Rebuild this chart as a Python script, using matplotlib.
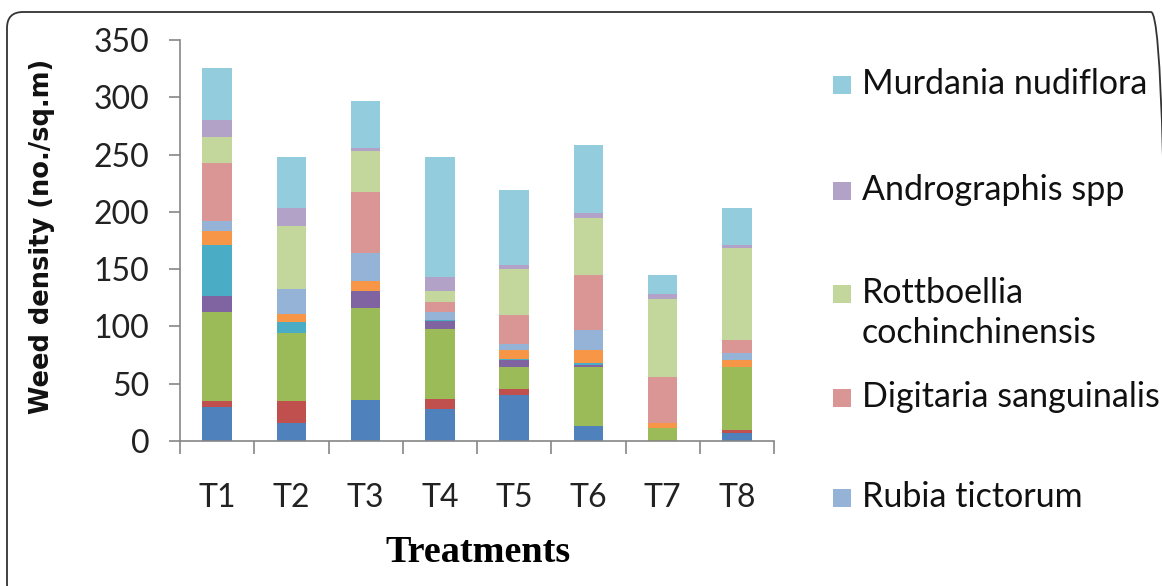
import numpy as np
import matplotlib.pyplot as plt
from matplotlib.patches import FancyBboxPatch, Rectangle

treatments = ["T1", "T2", "T3", "T4", "T5", "T6", "T7", "T8"]

# weed density per treatment (no./sq.m), stacked bottom to top
other_1 = [30, 16, 36, 28, 40, 13, 0, 7]
other_2 = [5, 19, 0, 9, 5, 0, 0, 3]
other_3 = [78, 59, 80, 61, 20, 52, 11, 55]
other_4 = [13.5, 0, 15, 6.5, 6, 1.5, 0, 0]
other_5 = [44.5, 10, 0, 1.5, 1, 1.5, 0, 0]
other_6 = [12.5, 6.5, 9, 0, 7, 11, 4.5, 6]
rubia = [8.5, 22.5, 24, 7, 6, 17.5, 0, 6]
digitaria = [51, 0, 53.5, 8, 25, 48.5, 40, 11.5]
rottboellia = [22, 54.5, 35.5, 10, 40, 49.5, 68.5, 80]
andrographis = [15.5, 16, 2.5, 12.5, 4, 4.5, 4.5, 3]
murdania = [45, 44.5, 41, 104, 65.5, 59.5, 16.5, 32]

series = [other_1, other_2, other_3, other_4, other_5, other_6,
          rubia, digitaria, rottboellia, andrographis, murdania]
colors = ["#4F81BD", "#C0504D", "#9BBB59", "#8064A2", "#4BACC6", "#F79646",
          "#95B3D7", "#D99694", "#C3D69B", "#B3A2C7", "#93CDDD"]

# only the last five series appear in the key, top entry first
legend_names = ["Murdania nudiflora", "Andrographis spp",
                "Rottboellia\ncochinchinensis", "Digitaria sanguinalis",
                "Rubia tictorum"]
legend_colors = ["#93CDDD", "#B3A2C7", "#C3D69B", "#D99694", "#95B3D7"]
legend_y = [85, 191, 294, 398, 498]  # pixel rows of the first text line

W, H = 1162, 586
fig = plt.figure(figsize=(W / 100, H / 100), dpi=100)
ax = fig.add_axes([180 / W, 145 / H, 594 / W, 401 / H])

x = np.arange(len(treatments))
bottom = np.zeros(len(treatments))
for vals, c in zip(series, colors):
    ax.bar(x, vals, width=0.4, bottom=bottom, color=c, linewidth=0)
    bottom += np.array(vals)

ax.set_xlim(-0.5, 7.5)
ax.set_ylim(0, 350)
ax.set_yticks(range(0, 351, 50))
ax.set_xticks(x)
ax.set_xticklabels(treatments)
ax.set_xticks(np.arange(-0.5, 8, 1), minor=True)

for s in ["top", "right"]:
    ax.spines[s].set_visible(False)
for s in ["left", "bottom"]:
    ax.spines[s].set_color("#868686")
    ax.spines[s].set_linewidth(1.2)

ax.tick_params(axis="y", length=8, width=1.2, color="#868686", pad=14,
               labelsize=23, labelcolor="#222222")
ax.tick_params(axis="x", which="major", length=0, pad=30,
               labelsize=23, labelcolor="#222222")
ax.tick_params(axis="x", which="minor", length=9, width=1.2, color="#868686")
for lab in ax.get_xticklabels() + ax.get_yticklabels():
    lab.set_family("Lato")

fig.text(42 / W, 1 - 236 / H, "Weed density (no./sq.m)", rotation=90,
         ha="center", va="center", fontsize=18.5, fontweight="bold",
         family="DejaVu Sans", color="#111111")
fig.text(478 / W, 1 - 553 / H, "Treatments", ha="center", va="center",
         fontsize=27.5, fontweight="bold", family="Liberation Serif")

# key entries drawn by hand so the text can run off the right edge
for name, c, yy in zip(legend_names, legend_colors, legend_y):
    fig.patches.append(Rectangle((833 / W, 1 - (yy + 9) / H), 18 / W, 18 / H,
                                 transform=fig.transFigure, color=c,
                                 linewidth=0))
    fig.text(862 / W, 1 - (yy - 17) / H, name, ha="left", va="top",
             fontsize=24.5, family="Lato", color="#111111", linespacing=1.3)

# rounded outer frame, bottom edge sits below the canvas
frame = FancyBboxPatch((7, -14), 1160, H - 12 + 14,
                       boxstyle="round,pad=0,rounding_size=16",
                       transform=None, fill=False, edgecolor="#333333",
                       linewidth=1.3)
fig.patches.append(frame)

fig.savefig("out.png", dpi=100)
